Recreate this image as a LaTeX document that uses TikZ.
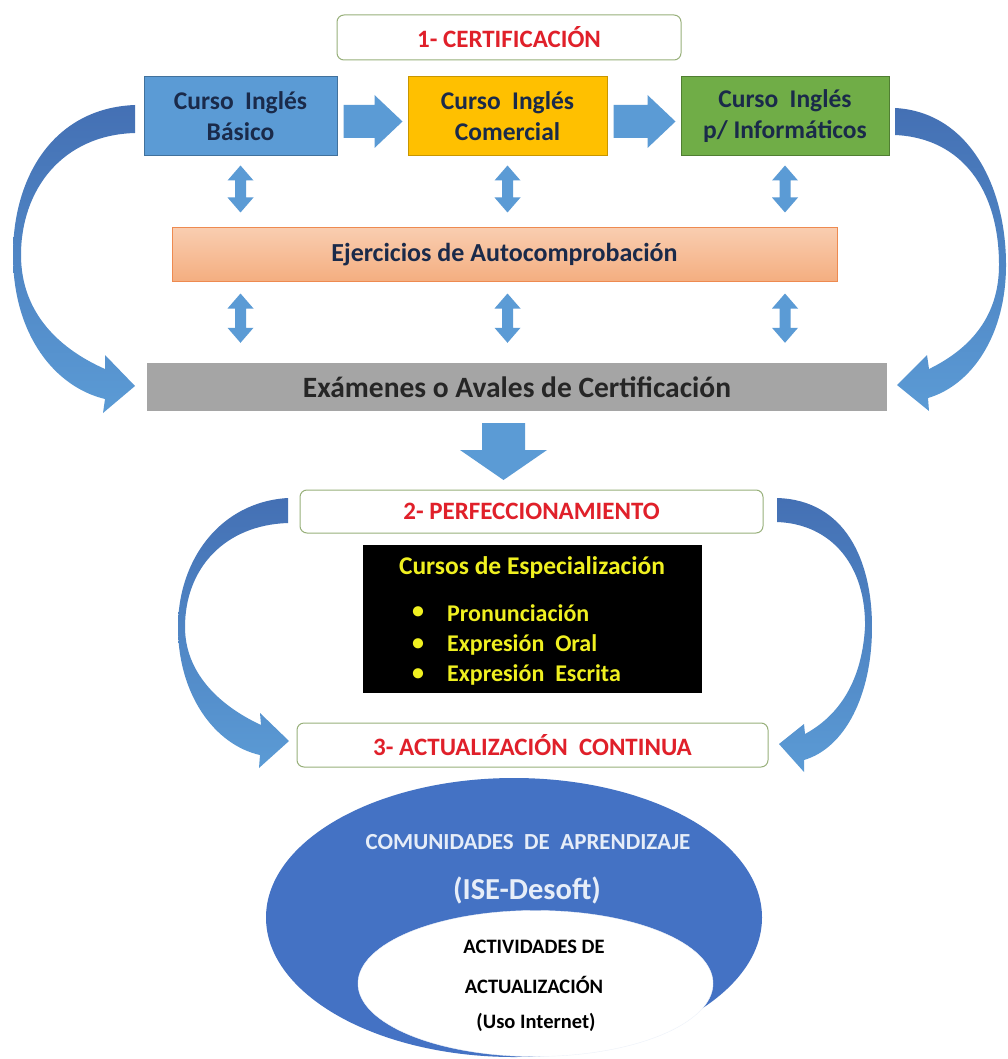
\documentclass[tikz,border=0pt]{standalone}
\usepackage{fontspec}
\setmainfont{Carlito}
\usetikzlibrary{calc,shapes.geometric}
\definecolor{arrowblue}{HTML}{5B9BD5}
\definecolor{curvetop}{HTML}{4470B4}
\definecolor{curvebot}{HTML}{5B9BD5}
\definecolor{boxblue}{HTML}{5B9BD5}
\definecolor{boxblueline}{HTML}{41719C}
\definecolor{boxyellow}{HTML}{FFC000}
\definecolor{boxyellowline}{HTML}{C89600}
\definecolor{boxgreen}{HTML}{70AD47}
\definecolor{boxgreenline}{HTML}{507E32}
\definecolor{orangetop}{HTML}{F9CDB0}
\definecolor{orangebot}{HTML}{F4AE80}
\definecolor{orangeline}{HTML}{EE8A50}
\definecolor{boxgray}{HTML}{A5A5A5}
\definecolor{titleborder}{HTML}{98B07A}
\definecolor{titlered}{HTML}{E0202A}
\definecolor{navytext}{HTML}{1A2A4A}
\definecolor{darktext}{HTML}{262626}
\definecolor{yellowtext}{HTML}{F0F020}
\definecolor{ellblue}{HTML}{4472C4}
\definecolor{elltext}{HTML}{E6EDF8}
\newcommand\dblarr[4]{%
  \fill[arrowblue] let \p1=#1, \p2=#2 in
   (\x1,\y1-#3pt) -- (\x1+13pt,\y1-#3pt-15pt) -- (\x1+5.5pt,\y1-#3pt-15pt)
   -- (\x1+5.5pt,\y2+#4pt+15pt) -- (\x1+13pt,\y2+#4pt+15pt) -- (\x1,\y2+#4pt)
   -- (\x1-13pt,\y2+#4pt+15pt) -- (\x1-5.5pt,\y2+#4pt+15pt)
   -- (\x1-5.5pt,\y1-#3pt-15pt) -- (\x1-13pt,\y1-#3pt-15pt) -- cycle;}
\newcommand\rarr[2]{%
  \fill[arrowblue] let \p1=#1, \p2=#2 in
   (\x1+6pt,\y1-5pt+16.5pt) -- (\x2-33pt,\y1-5pt+16.5pt) -- (\x2-33pt,\y1-5pt+26.5pt)
   -- (\x2-5pt,\y1-5pt) -- (\x2-33pt,\y1-5pt-26.5pt) -- (\x2-33pt,\y1-5pt-16.5pt)
   -- (\x1+6pt,\y1-5pt-16.5pt) -- cycle;}
\begin{document}
\begin{tikzpicture}[x=1pt,y=-1pt,
  cbox/.style={draw, line width=1pt, inner sep=0pt, align=center,
     font=\fontsize{25.5}{31}\selectfont\bfseries, text=navytext},
  titlebox/.style={draw=titleborder, fill=white, rounded corners=7pt, line width=1pt,
     inner sep=0pt, font=\fontsize{25}{30}\selectfont\bfseries, text=titlered},
  curvearrow/.style={top color=curvetop, bottom color=curvebot},
  yel/.style={text=yellowtext, font=\fontsize{24}{28}\selectfont\bfseries, inner sep=0pt},
  ellbig/.style={text=elltext, inner sep=0pt},
  ellsmall/.style={text=black, font=\fontsize{20.5}{24}\selectfont\bfseries, inner sep=0pt}]
\useasboundingbox (0,0) rectangle (1008,1059);
\fill[white] (0,0) rectangle (1008,1059);

% --- section 1 ---
\node[titlebox, minimum width=344pt, minimum height=45pt] (t1) at (509,37.5) {1- CERTIFICACIÓN};
\node[cbox, fill=boxblue, draw=boxblueline, minimum width=193pt, minimum height=79pt] (b1) at (240.5,116.5) {Curso\ \ Inglés\\Básico};
\node[cbox, fill=boxyellow, draw=boxyellowline, minimum width=199pt, minimum height=79pt] (b2) at (507.5,116.5) {Curso\ \ Inglés\\Comercial};
\node[cbox, fill=boxgreen, draw=boxgreenline, minimum width=208pt, minimum height=79pt] (b3) at (785,116.5) {Curso\ \ Inglés\\p/\ Informáticos};
\node[cbox, top color=orangetop, bottom color=orangebot, draw=orangeline, minimum width=665pt, minimum height=53pt, font=\fontsize{26}{30}\selectfont\bfseries] (ej) at (504.5,254.5) {Ejercicios\ de\ Autocomprobación};
\node[fill=boxgray, inner sep=0pt, minimum width=740pt, minimum height=48pt, text=darktext, font=\fontsize{29.5}{34}\selectfont\bfseries] (ex) at (517,387) {Exámenes o Avales de Certificación\hspace{14pt}};

\rarr{(b1.east)}{(b2.west)}
\rarr{(b2.east)}{(b3.west)}

\dblarr{(b1.south)}{(ej.north)}{9}{15}
\dblarr{(b2.south)}{(ej.north)}{9}{15}
\dblarr{(b3.south)}{(ej.north)}{9}{15}
\dblarr{(b1.south |- ej.south)}{(ex.north)}{12}{20}
\dblarr{(b2.south |- ej.south)}{(ex.north)}{12}{20}
\dblarr{(b3.south |- ej.south)}{(ex.north)}{12}{20}

% big curved arrows
\shade[curvearrow] (135,105) .. controls (55,108) and (13,175) .. (13,255)
  .. controls (13,335) and (55,387) .. (105,399) -- (103,413) -- (135,386) -- (105,355) -- (105,369)
  .. controls (62,350) and (21,315) .. (21,255) .. controls (21,190) and (62,135) .. (135,133) -- cycle;
\shade[curvearrow] (895,108) .. controls (968,112) and (1006,185) .. (1006,265)
  .. controls (1006,335) and (972,385) .. (928,398) -- (929,411) -- (897,385) -- (927,355) -- (929,369)
  .. controls (972,348) and (999,315) .. (999,265) .. controls (999,190) and (962,138) .. (895,135) -- cycle;

% down arrow
\coordinate (dtop) at (503.5,423);
\coordinate (dtip) at (503.5,480);
\fill[arrowblue] let \p1=(dtop), \p2=(dtip) in
  (\x1-21.5pt,\y1) -- (\x1+21.5pt,\y1) -- (\x1+21.5pt,\y2+30pt) -- (\x1+43.5pt,\y2+30pt)
  -- (\x2,\y2) -- (\x1-43.5pt,\y2+30pt) -- (\x1-21.5pt,\y2+30pt) -- cycle;

% --- section 2 ---
\node[titlebox, minimum width=463pt, minimum height=43pt] (t2) at (531.5,511.5) {2- PERFECCIONAMIENTO};
\node[fill=black, inner sep=0pt, minimum width=339pt, minimum height=148pt] (bk) at (532.5,619) {};
\node[yel, font=\fontsize{25.5}{30}\selectfont\bfseries] (bkt) at (532,568) {Cursos\ de\ Especialización};
\node[yel] (bu1) at (418,613) {•};
\node[yel] (bu2) at (418,645) {•};
\node[yel] (bu3) at (418,675) {•};
\node[yel, anchor=west] (l1) at (447,613) {Pronunciación};
\node[yel, anchor=west] (l2) at (447,645) {Expresión\ \ Oral};
\node[yel, anchor=west] (l3) at (447,675) {Expresión\ \ Escrita};

% --- section 3 ---
\node[titlebox, minimum width=471pt, minimum height=44pt] (t3) at (532.5,745) {3- ACTUALIZACIÓN\ \ CONTINUA};

\shade[curvearrow] (288,498) .. controls (220,502) and (178,560) .. (178,627)
  .. controls (178,695) and (215,745) .. (260,755) -- (259,768) -- (289,741) -- (260,713) -- (261,725)
  .. controls (218,705) and (185,672) .. (185,627) .. controls (185,568) and (225,525) .. (288,523) -- cycle;
\shade[curvearrow] (777,498) .. controls (845,500) and (872,560) .. (872,627)
  .. controls (872,695) and (845,748) .. (804,760) -- (804,772) -- (779,744) -- (804,724) -- (805,734)
  .. controls (840,715) and (862,680) .. (865,627) .. controls (866,566) and (832,524) .. (777,522) -- cycle;

% ellipses
\node[ellipse, fill=ellblue, inner sep=0pt, minimum width=496pt, minimum height=279pt] (outer) at (514,917.5) {};
\node[ellipse, fill=white, draw=white!90!ellblue, inner sep=0pt, minimum width=355pt, minimum height=146pt] (inner) at (535.5,983.5) {};
\node[ellbig, font=\fontsize{23}{27}\selectfont\bfseries] (cm) at (528,842) {COMUNIDADES\ \ DE\ \ APRENDIZAJE};
\node[ellbig, font=\fontsize{30.5}{34}\selectfont\bfseries] (ise) at (527,890) {(ISE-Desoft)};
\node[ellsmall] (a1) at (534,947) {ACTIVIDADES DE};
\node[ellsmall] (a2) at (534,985) {ACTUALIZACIÓN};
\node[ellsmall] (a3) at (536,1022) {(Uso Internet)};
\end{tikzpicture}
\end{document}
